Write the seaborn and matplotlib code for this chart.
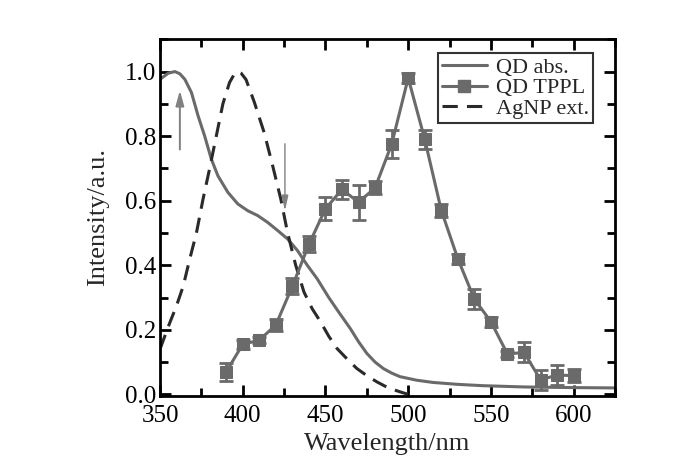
import numpy as np
import seaborn as sns
import matplotlib
matplotlib.use("Agg")
import matplotlib.pyplot as plt
from matplotlib.ticker import MultipleLocator, FormatStrFormatter
from matplotlib.lines import Line2D

# QD absorption (solid)
abs_wl = [350, 355, 359, 362, 365, 369, 373, 377, 381, 385, 391, 397, 403, 409,
          415, 421, 427, 433, 439, 445, 452, 458, 465, 470, 475, 480, 485, 490,
          495, 505, 515, 530, 545, 570, 600, 625]
abs_val = [0.976, 0.995, 1.0, 0.993, 0.976, 0.935, 0.863, 0.80, 0.729, 0.677, 0.626,
           0.59, 0.569, 0.554, 0.533, 0.508, 0.482, 0.446, 0.40, 0.358, 0.30, 0.255,
           0.204, 0.163, 0.127, 0.10, 0.08, 0.066, 0.055, 0.044, 0.037, 0.031,
           0.027, 0.023, 0.021, 0.02]

# AgNP extinction (dashed)
ag_wl = [350, 355, 360, 364, 368, 372, 376, 380, 384, 388, 392, 395, 397, 399,
         402, 407, 413, 418, 423, 427, 432, 437, 442, 447, 452, 457, 463, 469,
         475, 481, 488, 495, 500]
ag_val = [0.14, 0.21, 0.275, 0.335, 0.42, 0.50, 0.605, 0.70, 0.80, 0.90, 0.966,
          0.993, 1.0, 0.995, 0.975, 0.905, 0.81, 0.71, 0.605, 0.503, 0.40, 0.317,
          0.265, 0.225, 0.18, 0.142, 0.11, 0.08, 0.058, 0.039, 0.02, 0.008, 0.0]

# QD two-photon PL with error bars
pl_wl = [390, 400, 410, 420, 430, 440, 450, 460, 470, 480, 490,
         500, 510, 520, 530, 540, 550, 560, 570, 580, 590, 600]
pl_val = [0.07, 0.155, 0.168, 0.215, 0.335, 0.465, 0.575, 0.635, 0.595, 0.64, 0.775,
          0.98, 0.79, 0.57, 0.42, 0.295, 0.225, 0.125, 0.13, 0.045, 0.06, 0.058]
pl_err = [0.028, 0.015, 0.01, 0.02, 0.025, 0.025, 0.035, 0.03, 0.054, 0.02, 0.044,
          0.015, 0.03, 0.02, 0.015, 0.03, 0.015, 0.01, 0.031, 0.03, 0.03, 0.02]

gray = "#6a6a6a"
dark = "#2a2a2a"

sns.set_style("ticks")
plt.rcParams["font.family"] = ["Liberation Serif", "DejaVu Serif"]

fig = plt.figure(figsize=(7, 4.61), dpi=100)
ax = fig.add_axes([0.2286, 0.1417, 0.65, 0.7731])

sns.lineplot(x=abs_wl, y=abs_val, ax=ax, color=gray, lw=2.2)
sns.lineplot(x=ag_wl, y=ag_val, ax=ax, color=dark, lw=2.2)
ax.lines[-1].set_dashes([5, 3])
ax.errorbar(pl_wl, pl_val, yerr=pl_err, fmt="none", ecolor=gray, elinewidth=2,
            capsize=5, capthick=2)
sns.lineplot(x=pl_wl, y=pl_val, ax=ax, color=gray, lw=2.2, marker="s",
             markersize=9, markeredgecolor=gray)

ax.annotate("", xy=(362, 0.95), xytext=(362, 0.75),
            arrowprops=dict(arrowstyle="-|>,head_width=0.25,head_length=0.9",
                            color="#808080", lw=1.4))
ax.annotate("", xy=(425.5, 0.56), xytext=(425.5, 0.785),
            arrowprops=dict(arrowstyle="-|>,head_width=0.2,head_length=0.9",
                            color="#808080", lw=1.0))

ax.set_xlim(350, 625)
ax.set_ylim(-0.004, 1.10)
ax.xaxis.set_major_locator(MultipleLocator(50))
ax.xaxis.set_minor_locator(MultipleLocator(25))
ax.yaxis.set_major_locator(MultipleLocator(0.2))
ax.yaxis.set_minor_locator(MultipleLocator(0.1))
ax.yaxis.set_major_formatter(FormatStrFormatter("%.1f"))
ax.tick_params(which="both", direction="in", top=True, right=True, width=2,
               labelsize=18, colors="black")
ax.tick_params(which="major", length=8)
ax.tick_params(which="minor", length=6)
ax.tick_params(axis="x", pad=7)
ax.tick_params(axis="y", pad=3)
for s in ax.spines.values():
    s.set_linewidth(2)
    s.set_color("black")

ax.set_xlabel("Wavelength/nm", fontsize=19, labelpad=4)
ax.set_ylabel("Intensity/a.u.", fontsize=19, labelpad=11)

handles = [
    Line2D([], [], color=gray, lw=2.2),
    Line2D([], [], color=gray, lw=2.2, marker="s", markersize=9),
    Line2D([], [], color=dark, lw=2.2, dashes=[5, 3]),
]
leg = ax.legend(handles, ["QD abs.", "QD TPPL", "AgNP ext."], loc="upper right",
                bbox_to_anchor=(0.952, 0.962), fontsize=16, frameon=True,
                fancybox=False, handlelength=2.0, handletextpad=0.4,
                labelspacing=0.0, borderpad=0.2, borderaxespad=0)
leg.get_frame().set_edgecolor("black")
leg.get_frame().set_linewidth(1.5)

fig.savefig("out.png", dpi=100)
